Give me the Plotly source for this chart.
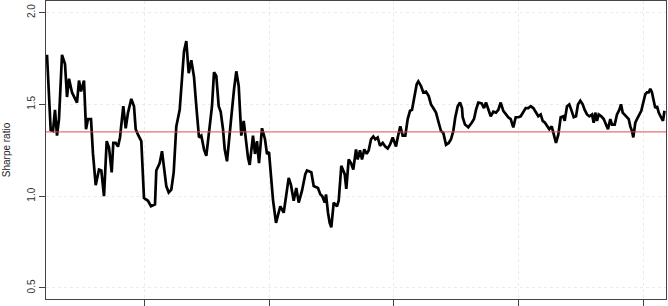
import plotly.graph_objects as go

# time index (observation position along the x axis) and rolling Sharpe ratio values
t = [0, 3.7, 6, 8, 10, 12, 15, 18, 20, 22, 25, 27, 30, 32, 34, 37, 39, 41, 44,
     46, 48.7, 52, 54.3, 57, 59.7, 62, 64.7, 66.3, 68.7, 71, 73, 76.3, 78.7, 81, 84.3, 87, 88.7, 91, 94.3, 97, 101,
     104, 108, 109.3, 112.7, 115, 117, 119.3, 121.7, 124.3, 126.7, 129.3, 132.7, 134.3, 137, 139.3, 141.7, 144.3,
     147, 149.3, 152, 154.3, 157, 159.3, 162.7, 165, 167, 169.3, 171.7, 173.7, 176, 177.7, 180, 182.7, 185, 187,
     189.3, 191.7, 194.3, 196.7, 198.7, 201, 202.7, 206, 208, 210, 212, 215,
     218, 220, 222, 224, 226, 229, 233.3, 236.7, 241.7, 244, 246.7, 249.3, 251.7, 255, 258.3, 260, 264.3, 266.7,
     271, 273.3, 275.3, 277.7, 279, 281, 282.7, 284.3, 286.7, 290, 291.7, 294.3, 297.7, 299.3, 301.7, 304, 306.3,
     309, 310.7, 313, 315, 317.3, 319.7, 321.7, 324, 326.3, 328.3, 330.7, 333, 335.7, 338.3, 340.7, 343, 345.7,
     347.3, 349, 350.7, 353.3, 355.7, 358.3, 360.7, 363, 365, 367.3, 369.7, 371.3, 374, 376.3, 379, 381.7, 384,
     386.3, 389, 391.7, 394, 396.3, 399, 401.7, 404, 406.3, 408.3, 410.7, 413, 415,
     415.7, 418, 421.3, 424.7, 427, 429, 431.3, 434.7, 437, 439, 441.3, 443.7, 446.3, 449, 451.3, 453.7, 456.3,
     459, 461.3, 463.7, 466.3, 468.7, 471.3, 473.7, 476.3, 478.7, 481.3, 483.7, 486.3, 489, 491.3, 493.7, 495.7,
     498, 500.3, 502.3, 504.7, 507, 509, 511.3, 513.7, 516.3,
     517.7, 520, 522.3, 524.3, 526.7, 529, 531, 533.3, 535.7, 537.7, 540, 542.3, 545, 546.7, 548.3, 550, 551.7,
     554.3, 556.7, 559, 561, 563.3, 565, 567.7, 570, 572.3, 574, 575.7, 577.7, 580, 581.7, 583.3, 585, 586.3,
     588.3, 590, 591.7, 594.3, 596.7, 598.3, 600, 601.7, 603.3, 605, 606.7, 608.3, 610, 611.7, 614, 616, 617.5]

sharpe = [1.77, 1.36, 1.355, 1.47, 1.33, 1.42, 1.77, 1.72, 1.54, 1.64, 1.565, 1.545, 1.51, 1.63, 1.57, 1.63, 1.365, 1.42, 1.42,
          1.23, 1.06, 1.145, 1.14, 1.0, 1.30, 1.265, 1.13, 1.29, 1.29, 1.27, 1.32, 1.49, 1.37, 1.455, 1.53, 1.49, 1.365, 1.335, 1.30, 0.99, 0.975,
          0.945, 0.955, 1.14, 1.18, 1.245, 1.16, 1.055, 1.02, 1.035, 1.13, 1.38, 1.47, 1.58, 1.79, 1.845, 1.67, 1.74,
          1.65, 1.49, 1.32, 1.33, 1.255, 1.22, 1.365, 1.49, 1.675, 1.655, 1.49, 1.46, 1.365, 1.255, 1.19, 1.365, 1.47, 1.58,
          1.68, 1.60, 1.33, 1.41, 1.31, 1.21, 1.17, 1.33, 1.23, 1.30, 1.18, 1.37,
          1.31, 1.23, 1.24, 1.11, 0.98, 0.855, 0.945, 0.91, 1.10, 1.06, 0.975, 1.045, 0.965, 1.03, 1.12, 1.14, 1.13, 1.055,
          1.045, 1.01, 1.0, 0.965, 1.01, 0.91, 0.855, 0.83, 0.965, 0.945, 0.975, 1.165, 1.12, 1.04, 1.20, 1.18, 1.145,
          1.255, 1.20, 1.25, 1.20, 1.255, 1.23, 1.25, 1.31, 1.325, 1.31, 1.32, 1.275, 1.29, 1.27, 1.26, 1.28, 1.32,
          1.29, 1.27, 1.32, 1.38, 1.33, 1.33, 1.42, 1.465, 1.47, 1.545, 1.61, 1.625, 1.60, 1.565, 1.57, 1.545, 1.50,
          1.48, 1.455, 1.40, 1.355, 1.345, 1.28, 1.29, 1.31, 1.355, 1.43, 1.49, 1.51, 1.48,
          1.43, 1.39, 1.375, 1.40, 1.42, 1.47, 1.51, 1.505, 1.48, 1.51, 1.47, 1.435, 1.46, 1.455, 1.47, 1.51, 1.465,
          1.445, 1.43, 1.42, 1.375, 1.43, 1.43, 1.435, 1.455, 1.48, 1.48, 1.49, 1.48, 1.455, 1.435, 1.445, 1.41,
          1.40, 1.38, 1.365, 1.38, 1.335, 1.29, 1.335, 1.43, 1.435,
          1.41, 1.49, 1.50, 1.47, 1.43, 1.435, 1.50, 1.52, 1.50, 1.47, 1.445, 1.435, 1.445, 1.40, 1.455, 1.41, 1.445,
          1.435, 1.42, 1.39, 1.365, 1.42, 1.39, 1.39, 1.445, 1.47, 1.50, 1.455, 1.445, 1.43, 1.42, 1.38, 1.355, 1.32,
          1.40, 1.42, 1.435, 1.465, 1.52, 1.555, 1.565, 1.565, 1.585, 1.565, 1.52, 1.48, 1.49, 1.455, 1.43, 1.41, 1.465]

benchmark = 1.35
x_ticks = [97, 222, 346.5, 471.5, 596]
y_ticks = [0.5, 1.0, 1.5, 2.0]
y_tick_labels = ["0.5", "1.0", "1.5", "2.0"]

fig = go.Figure()
fig.add_trace(go.Scatter(x=t, y=sharpe, mode="lines",
                         line=dict(color="black", width=2.7), showlegend=False))
fig.add_hline(y=benchmark, line=dict(color="#e34a4a", width=1))

fig.update_layout(
    width=668, height=306,
    margin=dict(l=46, r=2, t=1, b=7, autoexpand=False),
    paper_bgcolor="white", plot_bgcolor="white",
    font=dict(family="Liberation Sans, Arial, sans-serif", size=10, color="#333"),
)
fig.update_xaxes(range=[-1, 619], tickvals=x_ticks, showticklabels=False,
                 ticks="outside", ticklen=7, tickcolor="#444",
                 showgrid=True, gridcolor="#ebebeb", griddash="dot", gridwidth=1,
                 showline=True, linecolor="#444", linewidth=1, mirror=True, zeroline=False)
fig.update_yaxes(range=[0.44, 2.063], tickvals=y_ticks, ticktext=y_tick_labels,
                 tickangle=-90, ticks="outside", ticklen=6, tickcolor="#444",
                 showgrid=True, gridcolor="#ebebeb", griddash="dot", gridwidth=1,
                 showline=True, linecolor="#444", linewidth=1, mirror=True, zeroline=False,
                 title=dict(text="Sharpe ratio", standoff=13, font=dict(size=10, color="#222")))

fig.write_html("out.html", config={"displayModeBar": False, "staticPlot": True},
               post_script="document.body.style.margin='0px';document.body.style.overflow='hidden';")
